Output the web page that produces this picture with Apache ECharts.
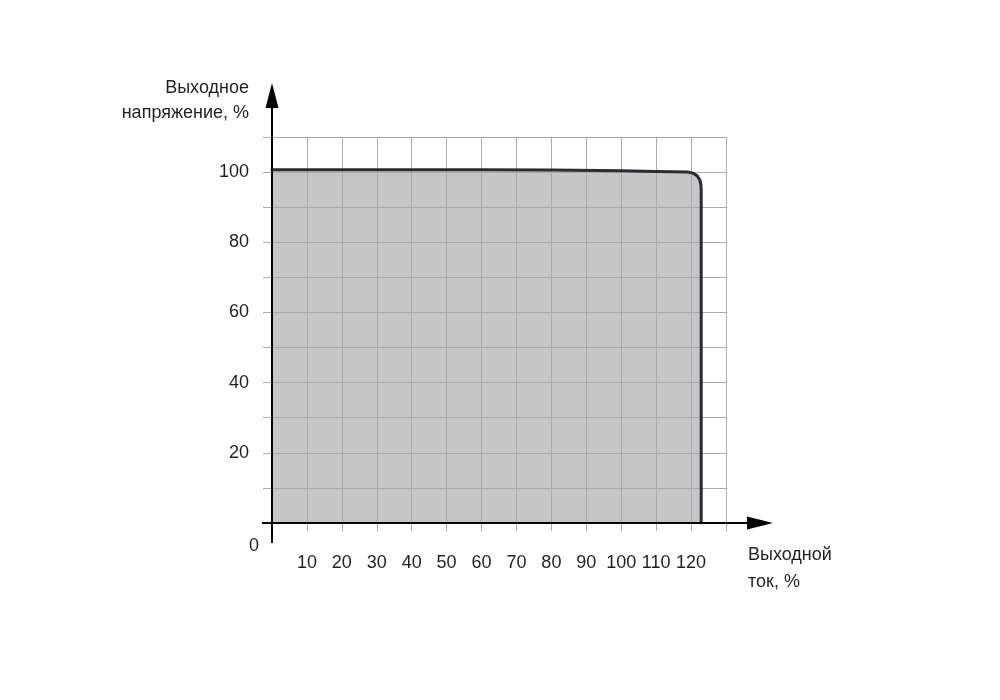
<!DOCTYPE html>
<html>
<head>
<meta charset="utf-8">
<script src="https://cdn.jsdelivr.net/npm/echarts@6/dist/echarts.min.js"></script>
<style>
html,body{margin:0;padding:0;background:#fff;}
#c{width:1000px;height:700px;}
</style>
</head>
<body>
<div id="c"></div>
<script>
// Data
const currentPct = [0, 20, 40, 60, 80, 100, 110, 119, 120.5, 121.7, 122.5, 122.85, 122.9, 122.9];
const voltagePct = [100.7, 100.7, 100.7, 100.7, 100.6, 100.4, 100.2, 100.0, 99.7, 99.0, 97.8, 96.2, 94.5, 0];
const xTickLabels = [10, 20, 30, 40, 50, 60, 70, 80, 90, 100, 110, 120];
const yTickLabels = [20, 40, 60, 80, 100];
const yAxisTitle = 'Выходное\nнапряжение, %';
const xAxisTitle = 'Выходной\nток, %';
const originLabel = '0';

const FONT = '"Liberation Sans", Arial, sans-serif';
const FS = 18;
const TXT = '#231f20';
const GRIDC = '#a9a9a9';

const curve = currentPct.map((x, i) => [x, voltagePct[i]]);

const chart = echarts.init(document.getElementById('c'), null, {renderer: 'canvas'});
chart.setOption({
  animation: false,
  backgroundColor: '#fff',
  grid: {left: 272, right: 274, top: 137, bottom: 177},
  xAxis: {
    type: 'value', min: 0, max: 130, interval: 10,
    axisLine: {show: false},
    axisTick: {show: true, inside: false, length: 8, lineStyle: {color: GRIDC, width: 1}},
    splitLine: {show: true, lineStyle: {color: GRIDC, width: 1}},
    axisLabel: {
      show: true, margin: 31, color: TXT, fontFamily: FONT, fontSize: FS,
      formatter: v => xTickLabels.includes(v) ? String(v) : ''
    }
  },
  yAxis: {
    type: 'value', min: 0, max: 110, interval: 10,
    axisLine: {show: false},
    axisTick: {show: true, inside: false, length: 9, lineStyle: {color: GRIDC, width: 1}},
    splitLine: {show: true, lineStyle: {color: GRIDC, width: 1}},
    axisLabel: {
      show: true, margin: 23, color: TXT, fontFamily: FONT, fontSize: FS,
      formatter: v => yTickLabels.includes(v) ? String(v) : ''
    }
  },
  series: [
    {
      type: 'line', data: curve, symbol: 'none', z: -1, silent: true,
      lineStyle: {width: 0},
      areaStyle: {color: '#c6c6c6', opacity: 1}
    },
    {
      type: 'line', data: curve, symbol: 'none', z: 5, silent: true,
      lineStyle: {color: '#2c2b36', width: 3, cap: 'round', join: 'round'}
    }
  ]
});

function drawDecor() {
  const p = (x, y) => chart.convertToPixel({gridIndex: 0}, [x, y]);
  const o = p(0, 0);
  const xEnd = p(130, 0)[0];
  const yTop = p(0, 110)[1];
  const g = [];
  // x axis line
  g.push({type: 'line', z: 100, shape: {x1: o[0] - 10, y1: o[1], x2: xEnd + 28, y2: o[1]},
    style: {stroke: '#000', lineWidth: 2}});
  g.push({type: 'polygon', z: 100, shape: {points: [[xEnd + 21, o[1] - 6.5], [xEnd + 47, o[1]], [xEnd + 21, o[1] + 6.5]]},
    style: {fill: '#000'}});
  // y axis line
  g.push({type: 'line', z: 100, shape: {x1: o[0], y1: o[1] + 20, x2: o[0], y2: yTop - 33},
    style: {stroke: '#000', lineWidth: 2}});
  g.push({type: 'polygon', z: 100, shape: {points: [[o[0] - 6.5, yTop - 29], [o[0], yTop - 54], [o[0] + 6.5, yTop - 29]]},
    style: {fill: '#000'}});
  // origin label
  g.push({type: 'text', z: 100, style: {text: originLabel, x: o[0] - 18, y: o[1] + 23, fill: TXT,
    font: FS + 'px ' + FONT, textAlign: 'center', textVerticalAlign: 'middle'}});
  // axis titles
  g.push({type: 'text', z: 100, style: {text: yAxisTitle, x: o[0] - 23, y: yTop - 36.5, fill: TXT,
    font: FS + 'px ' + FONT, textAlign: 'right', textVerticalAlign: 'middle', lineHeight: 25}});
  g.push({type: 'text', z: 100, style: {text: xAxisTitle, x: xEnd + 22, y: o[1] + 19, fill: TXT,
    font: FS + 'px ' + FONT, textAlign: 'left', textVerticalAlign: 'top', lineHeight: 27}});
  chart.setOption({graphic: g});
}
drawDecor();
</script>
</body>
</html>
